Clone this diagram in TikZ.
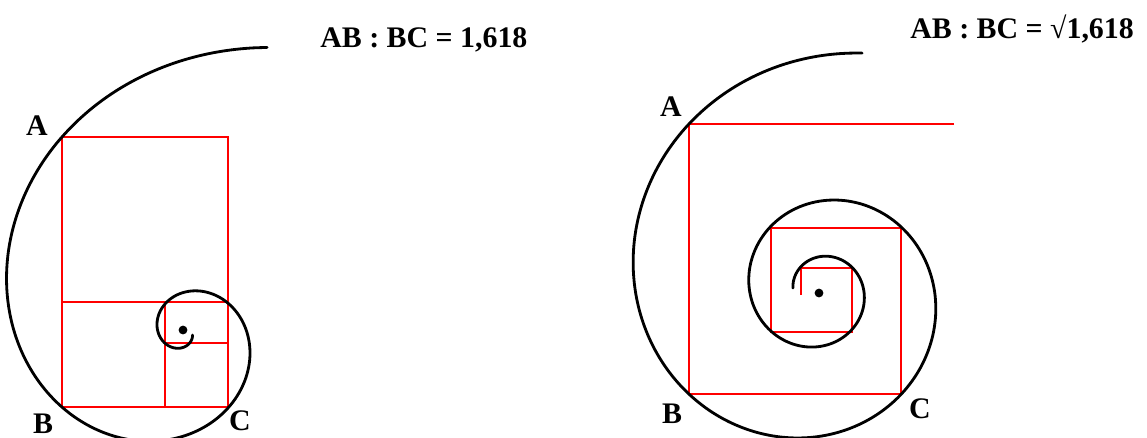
\documentclass[tikz,border=0pt]{standalone}
\usepackage{fontspec}
\setmainfont{Liberation Serif}
\usetikzlibrary{positioning}
\definecolor{shellBlack}{HTML}{000000}
\definecolor{frameRed}{HTML}{FF0000}
\tikzset{
    spiral/.style={draw=shellBlack,line width=1.6pt,line cap=round},
    rectframe/.style={draw=frameRed,line width=1.1pt},
    corner/.style={font=\fontsize{17}{20}\selectfont\bfseries,inner sep=0pt,anchor=base},
    ratio/.style={font=\fontsize{17}{20}\selectfont\bfseries,inner sep=0pt,anchor=base west},
    pole/.style={circle,fill=shellBlack,inner sep=0pt,minimum size=5pt}
}

\begin{document}
\begin{tikzpicture}[x=0.02cm,y=-0.02cm]
    \useasboundingbox (0,0) rectangle (1147,437);
    % golden rectangles
    \draw[rectframe] (62,137) rectangle (228,407);
    \draw[rectframe] (62,302) -- (228,302);
    \draw[rectframe] (165,302) -- (165,407);
    \draw[rectframe] (165,343) -- (228,343);
    \draw[spiral] plot[smooth,domain=73.5:704.7,samples=240,variable=\t]
        ({182.7+229.7*pow(1.618,-(\t-121.7)/90)*cos(\t)},{332.4-229.7*pow(1.618,-(\t-121.7)/90)*sin(\t)});
    \node[pole] (leftpole) at (183,330) {};
    \node[corner] (leftA) at (37,135) {A};
    \node[corner] (leftB) at (43,433) {B};
    \node[corner] (leftC) at (240,430) {C};
    \node[ratio] (leftratio) at (320,47) {AB : BC = 1,618};
    % root rectangles
    \draw[rectframe] (954,124) -- (689,124) -- (689,394) -- (901,394) -- (901,228) -- (771,228)
        -- (771,332) -- (852,332) -- (852,268) -- (801,268) -- (801,295);
    \draw[spiral] plot[smooth,domain=80:894,samples=300,variable=\t]
        ({820.2+212.3*pow(1.272,-(\t-128.2)/90)*cos(\t)},{290.9-212.3*pow(1.272,-(\t-128.2)/90)*sin(\t)});
    \node[pole] (rightpole) at (819,293) {};
    \node[corner] (rightA) at (671,116) {A};
    \node[corner] (rightB) at (672,423) {B};
    \node[corner] (rightC) at (920,418) {C};
    \node[ratio] (rightratio) at (910,38) {AB : BC = √1,618};
\end{tikzpicture}
\end{document}
